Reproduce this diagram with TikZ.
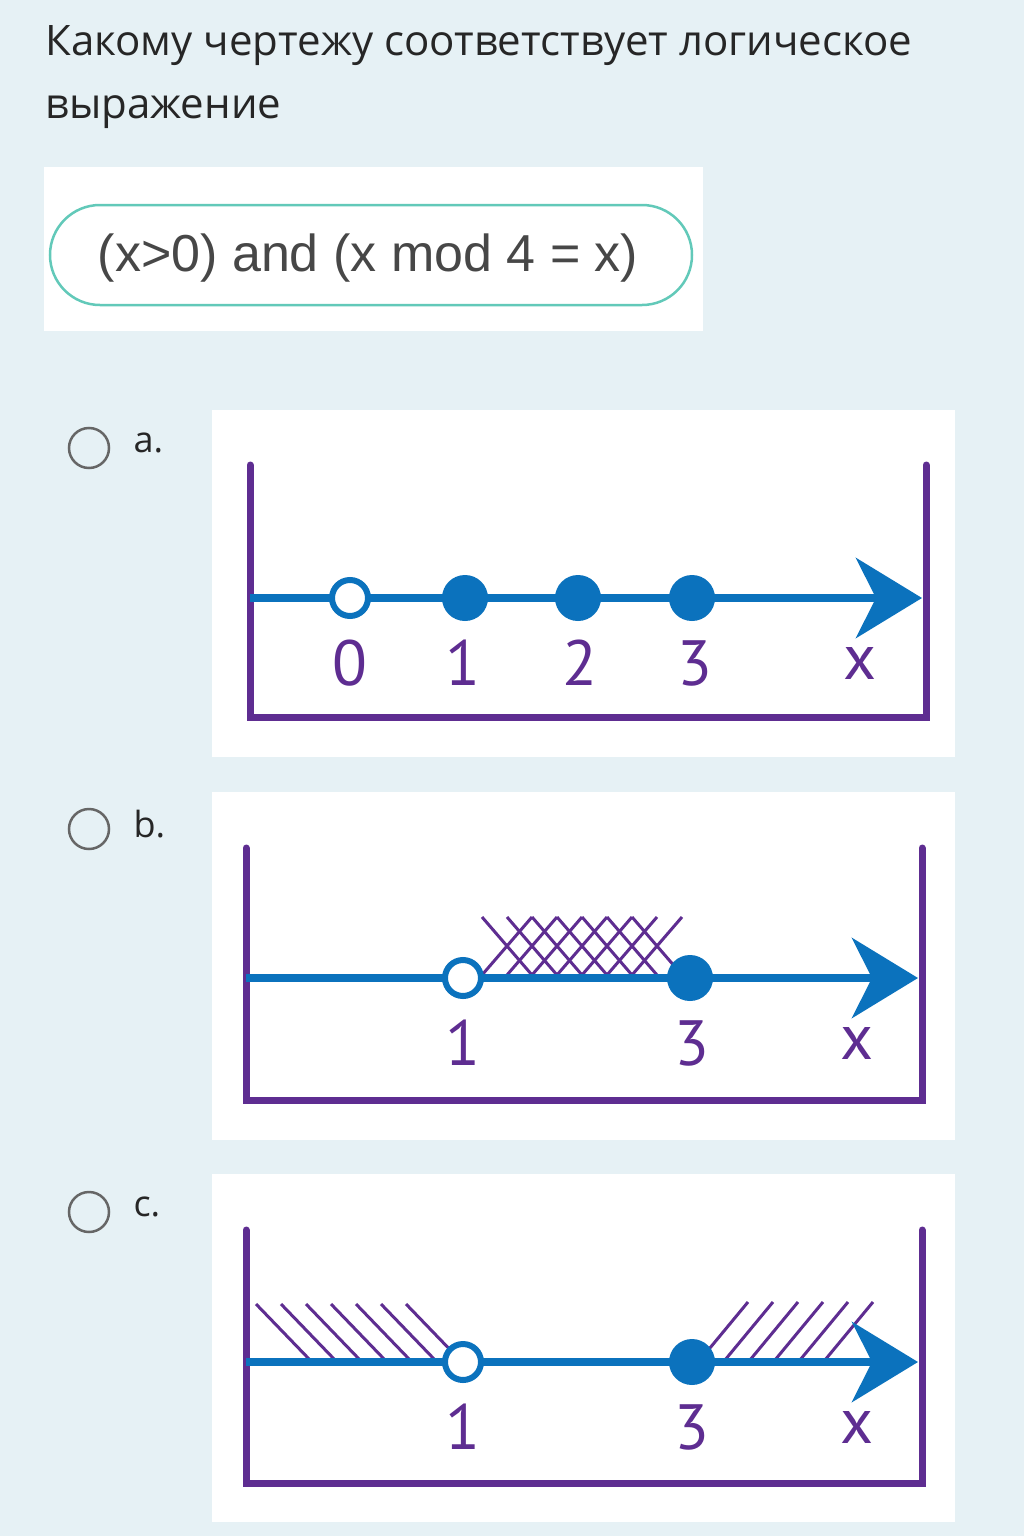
\documentclass[tikz,border=0pt]{standalone}
\usepackage{fontspec}
\setmainfont{Open Sans}
\newfontfamily\numfont{PT Sans}
\newfontfamily\exprfont{Liberation Sans}
\usetikzlibrary{arrows.meta}
\definecolor{bg}{HTML}{E6F1F5}
\definecolor{pur}{HTML}{5E2D91}
\definecolor{axb}{HTML}{0B72BD}
\definecolor{teal}{HTML}{62C9B9}
\begin{document}
\begin{tikzpicture}[x=1pt,y=-1pt,
  frame/.style={pur,line width=7pt,line cap=round},
  axis/.style={axb,line width=8pt,-{Stealth[length=66pt,width=80pt,inset=20pt]}},
  opendot/.style={circle,draw=axb,fill=white,line width=6pt,minimum size=36pt,inner sep=0},
  filldot/.style={circle,fill=axb,minimum size=46pt,inner sep=0},
  lab/.style={pur,font=\numfont\fontsize{64}{64}\selectfont},
  hat/.style={pur,line width=3pt},
  radio/.style={circle,draw=gray!80!black,line width=2.5pt,minimum size=40pt,inner sep=0},
  opt/.style={font=\fontsize{36}{36}\selectfont,text=black!85,anchor=west}]
\fill[bg] (0,0) rectangle (1024,1536);
\useasboundingbox (0,0) rectangle (1024,1536);
\node[anchor=west,font=\fontsize{42}{42}\selectfont,text=black!85] (t1) at (42,46) {Какому чертежу соответствует логическое};
\node[anchor=west,font=\fontsize{42}{42}\selectfont,text=black!85] (t2) at (42,112) {выражение};
\fill[white] (44,167) rectangle (703,331);
\node[draw=teal,line width=2.5pt,rounded corners=50pt,minimum width=642pt,minimum height=100pt,fill=white] (ex) at (371,255) {};
\node[font=\exprfont\fontsize{52}{52}\selectfont,text=black!72] (ext) at (368,258) {(x>0) and (x mod 4 = x)};
% options
\node[radio] (ra) at (89,448) {}; \node[opt] (la) at (130,443) {a.};
\node[radio] (rb) at (89,829) {}; \node[opt] (lb) at (130,824) {b.};
\node[radio] (rc) at (89,1212) {}; \node[opt] (lc) at (130,1207) {c.};
% panel a
\fill[white] (212,410) rectangle (955,757);
\coordinate (a1) at (250,465); \coordinate (a2) at (250,717); \coordinate (a3) at (926,717); \coordinate (a4) at (926,465);
\draw[frame] (a1) -- (a2) -- (a3) -- (a4);
\coordinate (as) at (250,598); \coordinate (ae) at (922,598);
\draw[axis] (as) -- (ae);
\node[opendot] (a0) at (350,598) {};
\node[filldot] (p1) at (465,598) {};
\node[filldot] (p2) at (578,598) {};
\node[filldot] (p3) at (692,598) {};
\node[lab] (l0) at (350,663) {0};
\node[lab] (l1) at (463,663) {1};
\node[lab] (l2) at (580,663) {2};
\node[lab] (l3) at (695,663) {3};
\node[lab] (lx) at (860,663) {x};
% panel b
\fill[white] (212,792) rectangle (955,1140);
\coordinate (b1) at (246,848); \coordinate (b2) at (246,1100); \coordinate (b3) at (922,1100); \coordinate (b4) at (922,848);
\draw[frame] (b1) -- (b2) -- (b3) -- (b4);
\foreach \i in {0,...,6}{
  \draw[hat] (482+\i*25,917) -- (532+\i*25,975);
  \draw[hat] (532+\i*25,917) -- (482+\i*25,975);
}
\coordinate (bs) at (246,978); \coordinate (be) at (918,978);
\draw[axis] (bs) -- (be);
\node[opendot] (b1d) at (463,978) {};
\node[filldot] (b3d) at (690,978) {};
\node[lab] (bl1) at (463,1043) {1};
\node[lab] (bl3) at (692,1043) {3};
\node[lab] (blx) at (857,1043) {x};
% panel c
\fill[white] (212,1174) rectangle (955,1522);
\coordinate (c1) at (246,1230); \coordinate (c2) at (246,1483); \coordinate (c3) at (922,1483); \coordinate (c4) at (922,1230);
\draw[frame] (c1) -- (c2) -- (c3) -- (c4);
\foreach \i in {0,...,6}{
  \draw[hat] (256+\i*25,1304) -- (310+\i*25,1360);
}
\foreach \i in {0,...,5}{
  \draw[hat] (748+\i*25,1302) -- (700+\i*25,1360);
}
\coordinate (cs) at (246,1362); \coordinate (ce) at (918,1362);
\draw[axis] (cs) -- (ce);
\node[opendot] (c1d) at (463,1362) {};
\node[filldot] (c3d) at (692,1362) {};
\node[lab] (cl1) at (463,1427) {1};
\node[lab] (cl3) at (692,1427) {3};
\node[lab] (clx) at (857,1427) {x};
\end{tikzpicture}
\end{document}
